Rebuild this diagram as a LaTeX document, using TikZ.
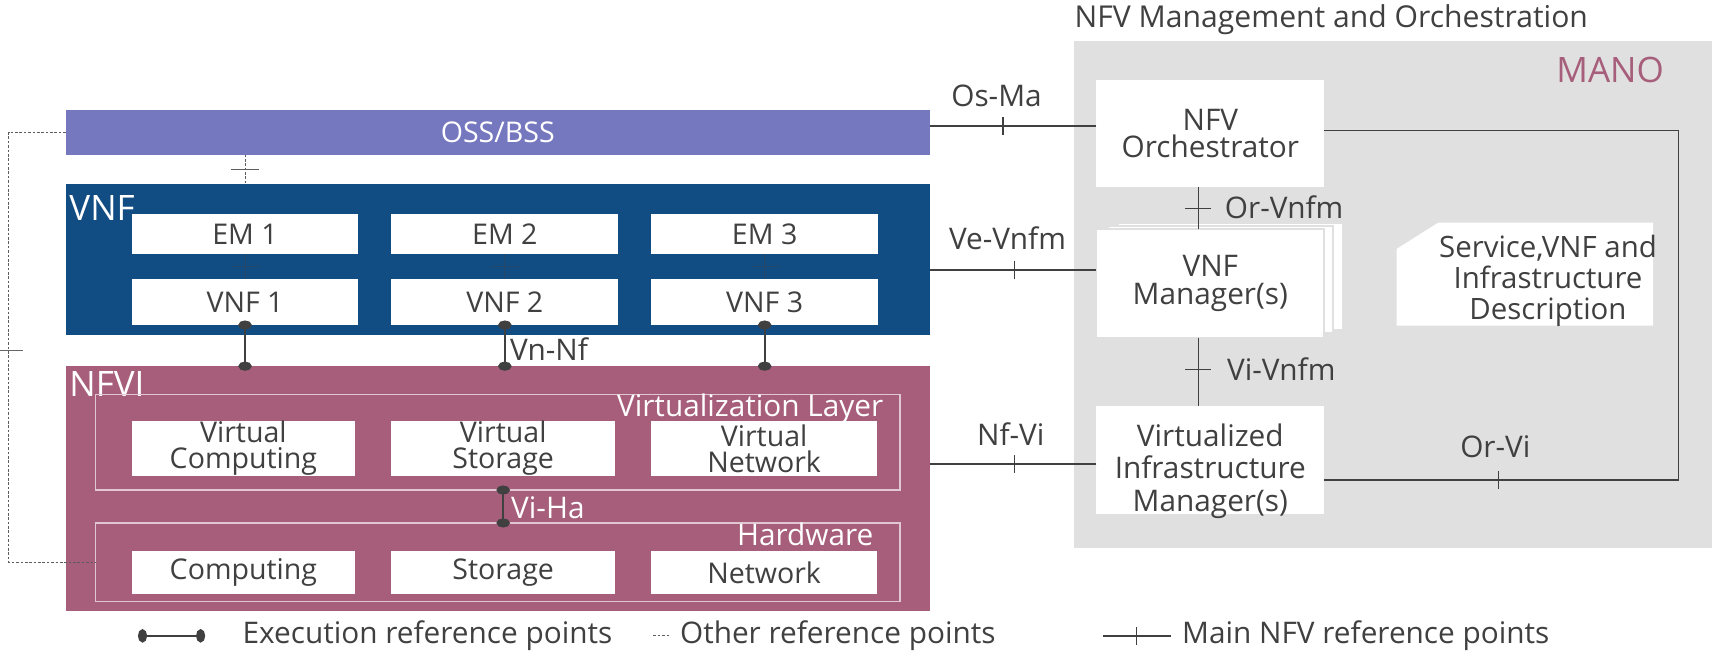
\documentclass[tikz,border=0pt]{standalone}
\usepackage{fontspec}
\setmainfont{Open Sans}
\usetikzlibrary{arrows.meta,positioning,calc,decorations.markings}
\definecolor{ossblue}  {HTML}{7578BE}
\definecolor{vnfblue}  {HTML}{114C82}
\definecolor{nfvirose} {HTML}{A65E7B}
\definecolor{manogray} {HTML}{E0E0E0}
\definecolor{ink}      {HTML}{404040}
\newcommand{\boxfont}  {\fontsize{16.3}{14.8}\selectfont\lineskiplimit=-20pt\relax}
\newcommand{\manofont} {\fontsize{17}{15.5}\selectfont\lineskiplimit=-20pt\relax}
\newcommand{\vimfont}  {\fontsize{17}{18.6}\selectfont}
\newcommand{\descfont} {\fontsize{16.8}{17.7}\selectfont}
\newcommand{\lblfont}  {\fontsize{17}{20}\selectfont}
\newcommand{\blkfont}  {\fontsize{20}{24}\selectfont}
\newcommand{\tickhalf} {.18cm}

\begin{document}
\begin{tikzpicture}[x=0.022cm, y=-0.022cm,
  sized/.style 2 args={minimum width=#1*0.022cm, minimum height=#2*0.022cm,
      inner sep=0pt, outer sep=0pt},
  wbox/.style 2 args={sized={#1}{#2}, fill=white, text=ink, font=\boxfont, align=center},
  layerframe/.style 2 args={sized={#1}{#2}, draw=white!65!nfvirose, line width=.7pt},
  lbl/.style={text=ink, font=\lblfont, inner sep=0pt},
  wlbl/.style={text=white, font=\lblfont, inner sep=0pt},
  tickhalf/.code={\def\tickhalf{#1}},
  reftick/.style={postaction={decorate, decoration={markings,
      mark=at position #1 with {\draw[solid, line width=.7pt] (0,-\tickhalf) -- (0,\tickhalf);}}}},
  reftick/.default=.5,
  mainref/.style={color=ink, draw, line width=.9pt, reftick=#1},
  mainref/.default=.5,
  execref/.style={color=ink, draw, line width=1.3pt,
      {Ellipse[length=5.2pt, width=7.6pt]}-{Ellipse[length=5.2pt, width=7.6pt]},
      shorten <=-2.6pt, shorten >=-2.6pt},
  otherref/.style={color=ink!85, draw, line width=.6pt, dash pattern=on 1.5pt off 1pt}]
  \useasboundingbox (0,0) rectangle (1568,600);

  % MANO side
  \node[sized={582}{463}, fill=manogray] (mano) at (1271,268.5) {};
  \node[lbl, anchor=base west, font=\fontsize{17.2}{20}\selectfont] (manotitle) at (980,25) {NFV Management and Orchestration};
  \node[text=nfvirose, font=\blkfont, inner sep=0pt, anchor=base east] (manolbl) at (1518,75) {MANO};
  \node[wbox={208}{98}, font=\manofont] (orch) at (1104,122) {NFV\\Orchestrator};
  \node[wbox={205}{98}, draw=manogray, line width=1.2pt] (vnfmc) at (1122.5,252) {};
  \node[wbox={205}{97.5}, draw=manogray, line width=1.2pt] (vnfmb) at (1113.5,254.8) {};
  \node[wbox={208}{99}, draw=manogray, line width=1.2pt, font=\manofont] (vnfm) at (1104,258.5) {VNF\\Manager(s)};
  \node[wbox={208}{99}] (vim) at (1104,419.5) {};
  \node[lbl, align=center, font=\vimfont] (vimtext) at ([yshift=-.22cm]vim.center) {Virtualized\\Infrastructure\\Manager(s)};
  \fill[white] (1274,227) -- (1312,203) -- (1508,203) -- (1508,297) -- (1274,297) -- cycle;
  \node[lbl, align=center, font=\descfont] (desc) at (1412,256) {Service,VNF and\\Infrastructure\\Description};

  % left side blocks
  \node[sized={788}{41}, fill=ossblue, text=white, font=\boxfont] (oss) at (454,120.5) {OSS/BSS};
  \node[sized={788}{138}, fill=vnfblue] (vnfblk) at (454,237) {};
  \node[sized={788}{223}, fill=nfvirose] (nfvi) at (454,445.5) {};
  \node[text=white, font=\blkfont, inner sep=0pt, anchor=base west] (vnflbl) at (63,201) {VNF};
  \node[text=white, font=\blkfont, inner sep=0pt, anchor=base west] (nfvilbl) at (63,362) {NFVI};

  \foreach \i/\x in {1/223.5, 2/460.5, 3/697.5} {
    \node[wbox={207}{37}] (em\i) at (\x,213.5) {EM \i};
    \node[wbox={207}{42}] (vnf\i) at (\x,275.5) {VNF \i};
    \draw[mainref, tickhalf=.28cm, color=ink!40!vnfblue, line width=.6pt] (em\i) -- (vnf\i);
    \draw[execref] (vnf\i.south) -- (vnf\i.south |- nfvi.north);
  }
  \node[lbl, anchor=west] (vnnf) at (465,318) {Vn-Nf};

  \node[layerframe={734}{87}] (virt) at (454,403.5) {};
  \node[wlbl, anchor=base east] (virtlbl) at (806,380) {Virtualization Layer};
  \node[layerframe={734}{72}] (hw) at (454,513) {};
  \node[wlbl, anchor=base east] (hwlbl) at (797,498) {Hardware};
  \node[wbox={204}{50}] (vc) at (222,409) {Virtual\\Computing};
  \node[wbox={204}{50}] (vs) at (459,409) {Virtual\\Storage};
  \node[wbox={206}{50}] (vn) at (697,409) {Virtual\\Network};
  \node[wbox={204}{39}] (hc) at (222,522.5) {Computing};
  \node[wbox={204}{39}] (hs) at (459,522.5) {Storage};
  \node[wbox={206}{39}] (hn) at (697,522.5) {Network};
  \draw[execref] (vs.south |- virt.south) -- (vs.south |- hw.north);
  \node[wlbl, anchor=west] (viha) at (466,463) {Vi-Ha};

  % other reference points
  \coordinate (lft) at (8,0);
  \draw[otherref] (oss.west) -- (oss.west -| lft) -- (lft |- hw.west) -- (hw.west);
  \draw[ink!80, line width=.7pt] (0,320) -- (21,320);
  \draw[otherref, reftick, tickhalf=.28cm] (oss.south -| vnf1.south) -- (vnfblk.north -| vnf1.south);

  % main NFV reference points
  \coordinate (osma) at ([yshift=.15cm]orch.west);
  \draw[mainref=.56] (osma) -- (osma -| oss.east);
  \node[lbl, anchor=base] (osmalbl) at (909,97) {Os-Ma};
  \coordinate (vevnfm) at ([yshift=.27cm]vnfm.west);
  \draw[mainref=.49] (vevnfm) -- (vevnfm -| vnfblk.east);
  \node[lbl, anchor=base] (vevnfmlbl) at (919,227.5) {Ve-Vnfm};
  \coordinate (nfvi2) at ([yshift=-.08cm]vim.west);
  \draw[mainref=.49] (nfvi2) -- (nfvi2 -| nfvi.east);
  \node[lbl, anchor=base] (nfvilbl2) at (922,406) {Nf-Vi};
  \coordinate (orvn) at ([xshift=-.24cm]orch.south);
  \draw[mainref, tickhalf=.26cm] (orvn) -- (orvn |- vnfm.north);
  \node[lbl, anchor=base west] (orvnfm) at (1117,199) {Or-Vnfm};
  \draw[mainref=.47, tickhalf=.26cm] (orvn |- vnfm.south) -- (orvn |- vim.north);
  \node[lbl, anchor=base west] (vivnfm) at (1119,347) {Vi-Vnfm};
  \coordinate (orvi) at ([yshift=-.40cm]vim.east);
  \coordinate (oror) at ([yshift=.066cm]orch.east);
  \coordinate (crn) at (1531,0);
  \draw[mainref=.165] (orvi) -- (orvi -| crn) -- (crn |- oror) -- (oror);
  \node[lbl, anchor=base] (orvilbl) at (1364,417.5) {Or-Vi};

  % legend
  \coordinate (e1) at (130,580);
  \coordinate (e2) at (183,580);
  \draw[execref] (e1) -- (e2);
  \node[lbl, anchor=west] (legexec) at (221,580) {Execution reference points};
  \coordinate (o1) at (596,580);
  \coordinate (o2) at (611,580);
  \draw[otherref] (o1) -- (o2);
  \node[lbl, anchor=west] (legother) at (620,580) {Other reference points};
  \coordinate (m1) at (1006,580);
  \coordinate (m2) at (1068,580);
  \draw[mainref=.49] (m1) -- (m2);
  \node[lbl, anchor=west] (legmain) at (1078,580) {Main NFV reference points};
\end{tikzpicture}
\end{document}
